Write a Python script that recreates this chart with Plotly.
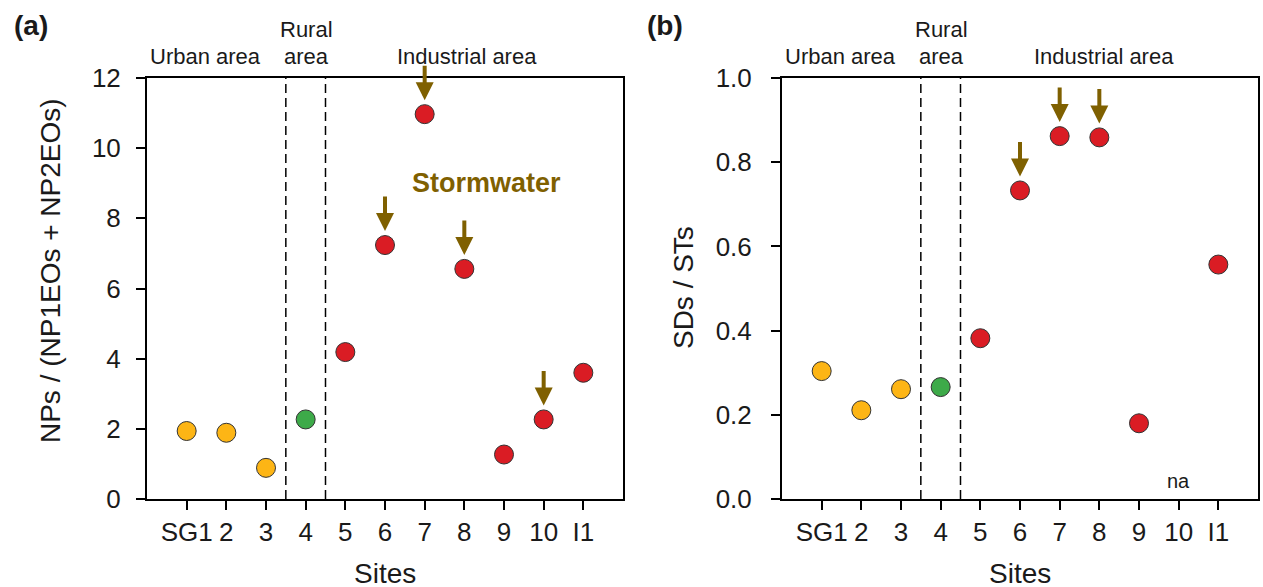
import plotly.graph_objects as go

sites = ["SG1", "2", "3", "4", "5", "6", "7", "8", "9", "10", "I1"]
site_pos = [1, 2, 3, 4, 5, 6, 7, 8, 9, 10, 11]
area = ["urban", "urban", "urban", "rural", "ind", "ind", "ind", "ind", "ind", "ind", "ind"]
ratio_np = [1.94, 1.89, 0.89, 2.27, 4.19, 7.24, 10.97, 6.56, 1.27, 2.27, 3.60]
ratio_sd = [0.304, 0.211, 0.261, 0.266, 0.382, 0.733, 0.862, 0.859, 0.180, None, 0.557]
storm_a = [6, 7, 8, 10]
storm_b = [6, 7, 8]
colors = {"urban": "#FDB515", "rural": "#3DAA49", "ind": "#DA1C24"}
BROWN = "#7F6000"
FONT = "Liberation Sans, Arial, sans-serif"

W, H = 1263, 602
SY, BY = 0.95, 14.0   # vertical mapping of the capture: out = SY * in + BY
def px(x): return x / W
def py(y): return 1 - ((y - BY) / SY) / H

fig = go.Figure()
mcol = [colors[a] for a in area]
fig.add_trace(go.Scatter(x=site_pos, y=ratio_np, mode="markers", xaxis="x", yaxis="y",
                         marker=dict(size=19, color=mcol, line=dict(color="#333333", width=1)),
                         showlegend=False))
fig.add_trace(go.Scatter(x=site_pos, y=ratio_sd, mode="markers", xaxis="x2", yaxis="y2",
                         marker=dict(size=19, color=mcol, line=dict(color="#333333", width=1)),
                         showlegend=False))

axis_common = dict(showline=True, linecolor="black", linewidth=2, mirror=True,
                   ticks="outside", ticklen=9, tickwidth=2, tickcolor="black",
                   showgrid=False, zeroline=False,
                   tickfont=dict(family=FONT, size=26, color="#1a1a1a"))

fig.update_layout(
    width=W, height=H, margin=dict(l=0, r=0, t=0, b=0),
    paper_bgcolor="white", plot_bgcolor="white",
    xaxis=dict(domain=[px(147), px(623)], range=[0, 12], tickvals=site_pos, ticktext=sites,
               anchor="y", ticklabelstandoff=0, **axis_common),
    yaxis=dict(domain=[py(498), py(77)], range=[0, 12], tickvals=[0, 2, 4, 6, 8, 10, 12],
               anchor="x", ticklabelstandoff=10, **axis_common),
    xaxis2=dict(domain=[px(782), px(1258)], range=[0, 12], tickvals=site_pos, ticktext=sites,
                anchor="y2", ticklabelstandoff=0, **axis_common),
    yaxis2=dict(domain=[py(498), py(77)], range=[0, 1.0], tickvals=[0, 0.2, 0.4, 0.6, 0.8, 1.0],
                tickformat=".1f", anchor="x2", ticklabelstandoff=14, **axis_common),
)

shapes = []
for xr, yr in (("x", "y"), ("x2", "y2")):
    for xv in (3.5, 4.5):
        shapes.append(dict(type="line", xref=xr, yref=yr + " domain", x0=xv, x1=xv, y0=0, y1=1,
                           line=dict(color="black", width=1.5, dash="9px,5px")))
fig.update_layout(shapes=shapes)

ann = []
def text(x, y, s, size=23, color="#1a1a1a", bold=False, angle=0):
    ann.append(dict(x=px(x), y=py(y), xref="paper", yref="paper", text=("<b>%s</b>" % s) if bold else s,
                    showarrow=False, textangle=angle, xanchor="center", yanchor="middle",
                    font=dict(family=FONT, size=size, color=color)))

# panel labels
text(31, 24, "(a)", size=28, bold=True)
text(665, 24, "(b)", size=28, bold=True)
# area labels
for off, ux, ix in ((0, 205, 467), (635, 840, 1104)):
    text(ux, 55, "Urban area", size=22)
    text(306 + off, 28, "Rural", size=22)
    text(306 + off, 55, "area", size=22)
    text(ix, 55, "Industrial area", size=22)
# axis titles
text(50, 270, "NPs / (NP1EOs + NP2EOs)", size=28, angle=-90)
text(683, 287, "SDs / STs", size=28, angle=-90)
text(385, 572, "Sites", size=28)
text(1020, 572, "Sites", size=28)
# stormwater
text(486, 182, "Stormwater", size=27, color=BROWN, bold=True)
# na
ann.append(dict(x=10, y=0.043, xref="x2", yref="y2", text="na", showarrow=False,
                font=dict(family=FONT, size=20, color="#1a1a1a")))

# arrows
for s in storm_a:
    i = site_pos.index(s)
    ann.append(dict(x=s, y=ratio_np[i], xref="x", yref="y", ax=0, ay=-50, showarrow=True,
                    arrowhead=2, arrowsize=0.9, arrowwidth=4, arrowcolor=BROWN, standoff=14, text=""))
for s in storm_b:
    i = site_pos.index(s)
    ann.append(dict(x=s, y=ratio_sd[i], xref="x2", yref="y2", ax=0, ay=-50, showarrow=True,
                    arrowhead=2, arrowsize=0.9, arrowwidth=4, arrowcolor=BROWN, standoff=14, text=""))
fig.update_layout(annotations=ann)

fig.write_html("out.html", config={"displayModeBar": False},
               post_script="document.body.style.margin='0';document.body.style.overflow='hidden';")
